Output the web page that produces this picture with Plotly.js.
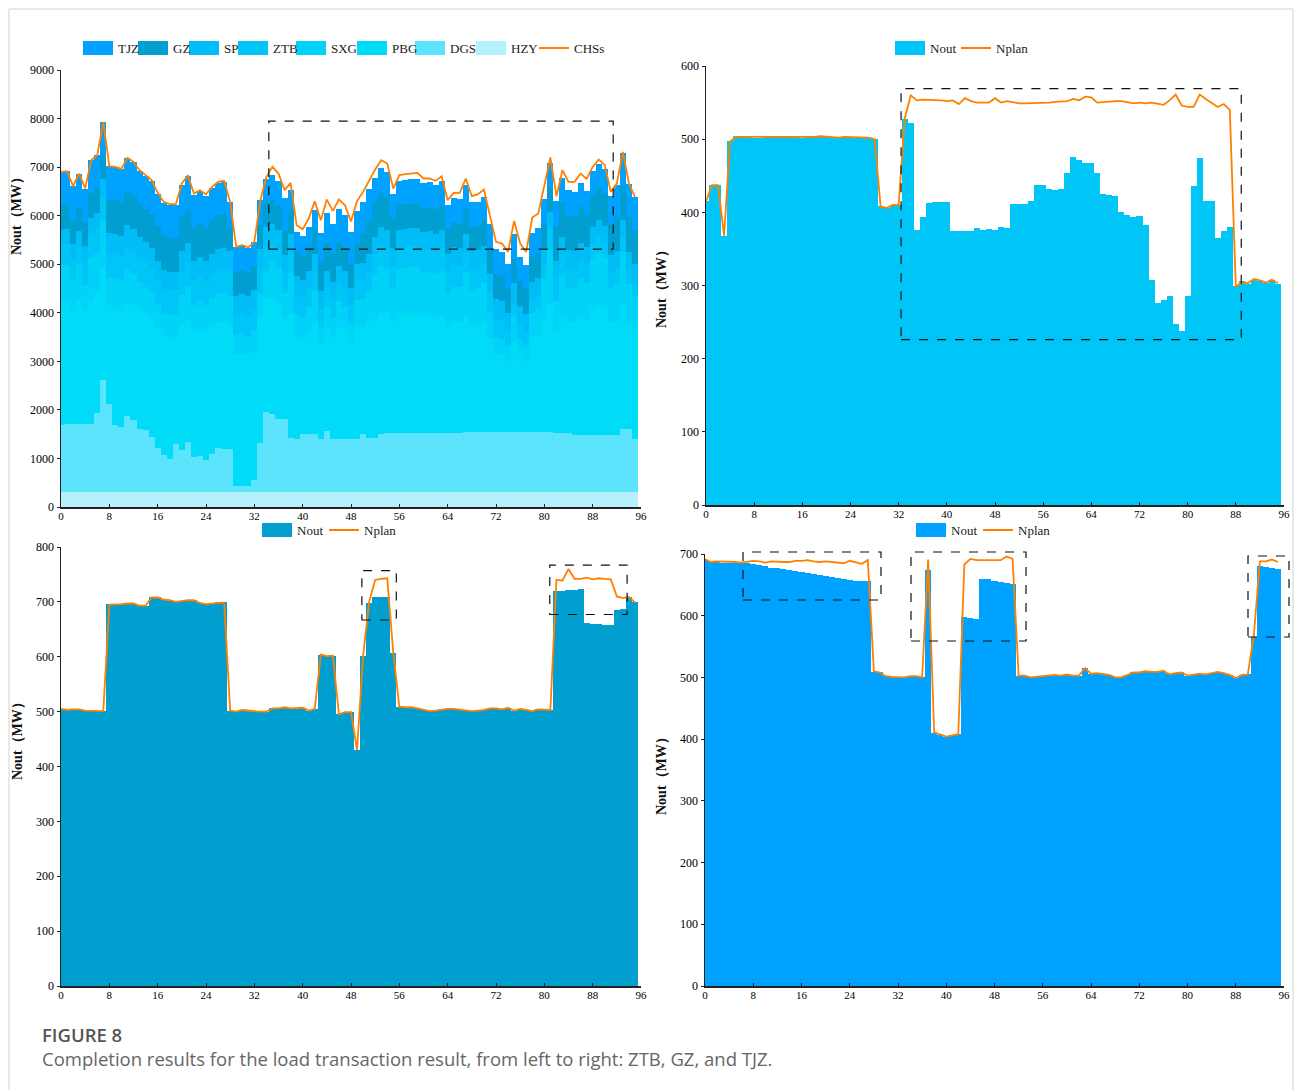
<!DOCTYPE html>
<html>
<head>
<meta charset="utf-8">
<script src="https://cdn.plot.ly/plotly-3.0.1.min.js"></script>
<style>
  html, body { margin: 0; padding: 0; background: #fff; }
  #chart { width: 1298px; height: 1090px; }
</style>
</head>
<body>
<div id="chart"></div>
<script>
// 96 fifteen-minute periods of the day
const steps = [...Array(96).keys()];

// ---- Stacked output of each station (MW) ----
const hzy = [
  300,300,300,300,300,300,300,300, 302,302,302,302,300,300,300,300,
  300,300,300,300,300,300,300,300, 300,300,300,300,300,300,300,300,
  300,300,300,300,300,300,300,300, 300,300,300,300,300,300,300,300,
  300,300,300,300,300,300,300,300, 300,300,300,300,300,300,300,300,
  300,300,300,300,300,300,300,300, 300,300,300,300,300,300,300,300,
  300,300,300,300,300,300,300,300, 300,300,300,300,300,300,300,300
];
const dgs = [
  1396,1400,1400,1400,1400,1400,1637,2310, 1815,1383,1348,1568,1486,1300,1280,1142,
  916,765,682,1005,881,1039,730,744,       675,799,916,902,902,133,133,133,
  263,1019,1657,1609,1506,1506,1122,1108,  1197,1211,1211,1108,1259,1108,1108,1094,
  1094,1100,1197,1122,1122,1211,1220,1225, 1225,1225,1225,1225,1225,1225,1225,1230,
  1230,1230,1230,1235,1235,1235,1235,1235, 1240,1240,1240,1240,1240,1240,1245,1245,
  1245,1245,1230,1230,1230,1177,1177,1177, 1177,1177,1190,1190,1190,1314,1314,1108
];
const pbg = [
  2554,2550,2350,2550,2350,2550,2463,2290, 2035,2417,2402,2332,2364,2450,2420,2458,
  2484,2485,2518,2195,2569,2511,2570,2606, 2625,2601,2584,2598,2548,2717,2717,2717,
  2637,2581,2343,2391,2394,2094,2578,2092, 1953,2089,2289,1942,2091,2092,2292,2256,
  2006,2300,2203,2378,2478,2489,2480,2275, 2475,2475,2475,2475,2425,2425,2375,2420,
  2170,2270,2270,2415,2215,2215,2265,1915, 1610,1610,1460,1860,1610,1460,1955,2005,
  2305,2655,2120,2370,2270,2323,2423,2373, 2623,2673,2610,2310,2310,2586,2186,2292
];
const sxg = [
  725,729,628,738,522,871,815,982,   563,600,619,673,643,584,541,531,
  471,447,462,455,609,671,566,579,   554,598,591,606,602,391,430,380,
  449,511,557,764,738,502,835,478,   448,520,667,354,477,397,537,466,
  385,570,581,619,889,979,912,732,   903,923,935,951,885,886,889,916,
  681,738,739,888,728,768,810,562,   346,313,338,533,313,343,493,536,
  847,1086,584,878,719,741,811,760,  1007,1095,1030,712,797,1056,794,638
];
const sp = [
  313,310,300,320,300,330,340,360, 420,420,410,430,430,420,410,400,
  400,390,380,390,410,420,400,410, 400,410,420,420,420,400,400,400,
  400,380,380,380,370,370,370,360, 360,360,370,360,360,360,360,360,
  350,360,360,370,370,370,370,370, 370,370,370,370,370,370,370,370,
  370,370,370,370,370,370,370,400, 400,400,350,400,400,350,400,400,
  360,360,360,360,360,360,360,360, 360,360,360,360,360,360,360,360
];
const chss = [
  6900,6916,6607,6868,6559,7143,7246,7933, 7019,7005,6964,7191,7109,6937,6834,6731,
  6470,6284,6236,6236,6662,6834,6456,6525, 6442,6593,6696,6717,6284,5357,5391,5343,
  5460,6319,6799,7005,6868,6525,6676,5804, 5721,5941,6298,5907,6332,6099,6332,6216,
  5880,6300,6490,6731,6951,7143,7074,6559, 6834,6854,6868,6882,6765,6765,6717,6813,
  6319,6470,6470,6765,6401,6442,6538,5975, 5460,5426,5254,5893,5426,5254,5962,6044,
  6607,7198,6401,6937,6696,6696,6868,6758, 7005,7157,7040,6490,6662,7315,6662,6387
];

// ---- ZTB ----
const ztbOut = [
  415,437,437,368,497,504,504,503, 502,502,503,503,503,503,503,503,
  502,503,503,504,503,503,503,503, 503,503,502,502,500,408,406,410,
  410,527,522,376,394,413,414,414, 414,375,375,375,375,378,376,377,
  376,380,379,412,412,412,415,438, 438,432,431,432,454,475,472,468,
  468,454,425,424,423,400,397,393, 395,383,308,276,280,286,247,238,
  286,436,474,415,415,365,375,380, 299,306,302,308,306,303,307,302
];
const ztbPlan = [
  415,437,437,368,497,503,503,503, 502,502,503,503,502,503,503,503,
  502,503,503,504,503,503,502,503, 503,502,502,502,500,408,406,410,
  410,528,560,553,554,554,554,553, 552,553,548,556,552,550,550,550,
  556,550,552,550,549,549,549,549, 550,550,551,552,552,555,553,558,
  557,550,551,551,552,552,551,549, 550,549,550,549,547,553,561,546,
  544,544,561,555,550,544,548,540, 298,305,303,309,307,304,308,303
];

// ---- GZ ----
const gzOut = [
  505,503,504,504,502,502,502,501, 696,696,697,697,697,693,693,709,
  708,704,703,700,702,703,703,698, 696,697,699,700,502,500,503,502,
  500,500,500,506,506,508,506,506, 507,502,505,604,601,602,495,499,
  499,430,601,698,709,708,709,607, 509,508,508,506,503,501,502,504,
  505,505,504,502,501,502,503,506, 506,504,507,502,505,503,501,504,
  503,503,719,720,721,722,724,661, 660,659,658,657,686,687,709,699
];
const gzPlan = [
  505,503,504,504,502,502,502,501, 695,695,696,697,697,693,693,708,
  708,704,703,700,702,703,703,698, 696,697,699,699,502,500,503,502,
  500,500,500,506,506,508,506,506, 507,502,505,604,601,602,495,499,
  499,430,601,700,740,742,743,607, 509,508,508,506,503,501,502,504,
  505,505,504,502,501,502,503,506, 506,504,507,502,505,503,501,504,
  503,503,740,739,760,742,742,744, 741,743,742,741,710,707,709,699
];

// ---- TJZ ----
const tjzOut = [
  690,687,687,686,685,685,685,685, 684,682,680,678,677,675,674,673,
  671,669,668,666,664,663,661,660, 658,657,657,657,509,508,502,501,
  501,500,502,502,500,674,410,407, 404,406,408,598,596,594,660,659,
  657,655,653,651,503,503,500,501, 502,503,504,503,505,503,503,515,
  506,507,506,504,500,500,504,508, 508,510,509,509,511,505,507,508,
  503,505,506,505,507,509,507,504, 499,504,505,565,680,679,678,676
];
const tjzPlan = [
  692,687,688,688,688,687,686,687, 689,688,686,688,687,687,687,689,
  689,690,688,687,688,687,685,685, 689,686,684,690,510,508,502,501,
  501,500,502,502,500,691,411,407, 404,406,408,683,692,690,690,691,
  690,690,696,692,503,503,500,501, 502,503,504,503,505,503,503,515,
  506,507,506,504,500,500,504,508, 508,510,509,509,511,505,507,508,
  503,505,506,505,507,509,507,504, 499,504,505,568,688,688,691,687
];

// ---- styling ----
const COLORS = {
  TJZ: '#00A2FF', GZ: '#009FCF', SP: '#00BDF7', ZTB: '#00C6F7',
  SXG: '#00D3F7', PBG: '#00DCF8', DGS: '#5CE4FC', HZY: '#B5F1FC'
};
const LINE = '#FF8000';
const SERIF = 'Liberation Serif, Times New Roman, serif';
const W = 1298, H = 1090;
const fx = p => p / W;
const fy = p => 1 - p / H;

function bar(y, color, xa, ya) {
  return { type: 'bar', x: steps, y: y, width: 1, xaxis: xa, yaxis: ya,
    marker: { color: color, line: { width: 0 } }, showlegend: false, hoverinfo: 'x+y' };
}
function line(y, xa, ya) {
  return { type: 'scatter', mode: 'lines', x: steps, y: y, xaxis: xa, yaxis: ya,
    line: { color: LINE, width: 1.8 }, showlegend: false };
}

const traces = [
  // stacked, bottom to top
  bar(hzy, COLORS.HZY, 'x', 'y'),
  bar(dgs, COLORS.DGS, 'x', 'y'),
  bar(pbg, COLORS.PBG, 'x', 'y'),
  bar(sxg, COLORS.SXG, 'x', 'y'),
  bar(ztbOut, COLORS.ZTB, 'x', 'y'),
  bar(sp, COLORS.SP, 'x', 'y'),
  bar(gzOut, COLORS.GZ, 'x', 'y'),
  bar(tjzOut, COLORS.TJZ, 'x', 'y'),
  line(chss, 'x', 'y'),
  bar(ztbOut, COLORS.ZTB, 'x2', 'y2'),
  line(ztbPlan, 'x2', 'y2'),
  bar(gzOut, COLORS.GZ, 'x3', 'y3'),
  line(gzPlan, 'x3', 'y3'),
  bar(tjzOut, COLORS.TJZ, 'x4', 'y4'),
  line(tjzPlan, 'x4', 'y4')
];

function xAxis(l, r, anchor) {
  return { domain: [fx(l), fx(r)], anchor: anchor, range: [0, 96], tick0: 0, dtick: 8,
    showgrid: false, zeroline: false, showline: true, linecolor: '#222', linewidth: 1.5,
    ticks: 'inside', ticklen: 3, tickcolor: '#222', ticklabelstandoff: -2,
    tickfont: { family: SERIF, size: 11, color: '#000' }, fixedrange: true };
}
function yAxis(bottom, top, anchor, max, step) {
  return { domain: [fy(bottom), fy(top)], anchor: anchor, range: [0, max], dtick: step,
    showgrid: false, zeroline: false, showline: true, linecolor: '#222', linewidth: 1.5,
    ticks: 'outside', ticklen: 3, tickcolor: '#222',
    tickfont: { family: SERIF, size: 12, color: '#000' }, fixedrange: true };
}

const shapes = [];
const annotations = [];

// card frame
shapes.push({ type: 'rect', xref: 'paper', yref: 'paper', x0: fx(9), x1: fx(1293), y0: -0.02, y1: fy(9),
  line: { color: '#d2d2d2', width: 1 }, fillcolor: 'rgba(0,0,0,0)', layer: 'below' });

const LEG_FONT = { family: SERIF, size: 13, color: '#1a1a1a' };
function legendBox(x0, yc, color, label) {
  shapes.push({ type: 'rect', xref: 'paper', yref: 'paper', x0: fx(x0), x1: fx(x0 + 30),
    y0: fy(yc + 7), y1: fy(yc - 7), fillcolor: color, line: { width: 0 } });
  annotations.push({ xref: 'paper', yref: 'paper', x: fx(x0 + 33), y: fy(yc), xanchor: 'left', yanchor: 'middle',
    text: label, showarrow: false, font: LEG_FONT });
}
function legendLine(x0, yc, label) {
  shapes.push({ type: 'line', xref: 'paper', yref: 'paper', x0: fx(x0), x1: fx(x0 + 30),
    y0: fy(yc), y1: fy(yc), line: { color: LINE, width: 2 } });
  annotations.push({ xref: 'paper', yref: 'paper', x: fx(x0 + 33), y: fy(yc), xanchor: 'left', yanchor: 'middle',
    text: label, showarrow: false, font: LEG_FONT });
}

// legends
legendBox(83, 48, COLORS.TJZ, 'TJZ');
legendBox(138, 48, COLORS.GZ, 'GZ');
legendBox(189, 48, COLORS.SP, 'SP');
legendBox(238, 48, COLORS.ZTB, 'ZTB');
legendBox(296, 48, COLORS.SXG, 'SXG');
legendBox(357, 48, COLORS.PBG, 'PBG');
legendBox(415, 48, COLORS.DGS, 'DGS');
legendBox(476, 48, COLORS.HZY, 'HZY');
legendLine(539, 48, 'CHSs');

legendBox(895, 48, COLORS.ZTB, 'Nout');
legendLine(961, 48, 'Nplan');

legendBox(262, 530, COLORS.GZ, 'Nout');
legendLine(329, 530, 'Nplan');

legendBox(916, 530, COLORS.TJZ, 'Nout');
legendLine(983, 530, 'Nplan');

// dashed highlight boxes
const DASH = { color: '#111', width: 1.2, dash: 'dash' };
function dashBox(xa, ya, x0, x1, y0, y1) {
  shapes.push({ type: 'rect', xref: xa, yref: ya, x0: x0, x1: x1, y0: y0, y1: y1,
    line: DASH, fillcolor: 'rgba(0,0,0,0)', layer: 'above' });
}
// boxes drawn in page pixels (they run past the plot frame)
function dashBoxPx(l, r, t, b) {
  shapes.push({ type: 'rect', xref: 'paper', yref: 'paper', x0: fx(l), x1: fx(r), y0: fy(b), y1: fy(t),
    line: DASH, fillcolor: 'rgba(0,0,0,0)', layer: 'above' });
}
dashBox('x', 'y', 34.4, 91.4, 5309, 7947);
dashBox('x2', 'y2', 32.4, 88.9, 226, 569);
dashBox('x3', 'y3', 49.8, 55.5, 667, 757);
dashBox('x3', 'y3', 80.9, 93.7, 677, 767);
dashBoxPx(743, 881, 552, 600);
dashBoxPx(911, 1026, 552, 641);
dashBoxPx(1248, 1289, 556, 637);

// y-axis titles
function yTitle(xc, yc) {
  annotations.push({ xref: 'paper', yref: 'paper', x: fx(xc), y: fy(yc), xanchor: 'center', yanchor: 'middle',
    text: '<b>Nout（MW）</b>', textangle: -90, showarrow: false, font: { family: SERIF, size: 14, color: '#111' } });
}
yTitle(17, 213);
yTitle(661, 286);
yTitle(17, 738);
yTitle(661, 773);

// figure caption
annotations.push({ xref: 'paper', yref: 'paper', x: fx(40), y: fy(1034), xanchor: 'left', yanchor: 'middle',
  text: 'FIGURE 8', showarrow: false, font: { family: 'Open Sans, sans-serif', size: 18.5, color: '#555', weight: 600 } });
annotations.push({ xref: 'paper', yref: 'paper', x: fx(40), y: fy(1058), xanchor: 'left', yanchor: 'middle',
  text: 'Completion results for the load transaction result, from left to right: ZTB, GZ, and TJZ.',
  showarrow: false, font: { family: 'Open Sans, sans-serif', size: 18.5, color: '#666' } });

const layout = {
  width: W, height: H,
  margin: { l: 0, r: 0, t: 0, b: 0 },
  paper_bgcolor: '#fff', plot_bgcolor: '#fff',
  barmode: 'stack', bargap: 0,
  showlegend: false,
  xaxis: xAxis(61, 641, 'y'),
  yaxis: yAxis(507, 70, 'x', 9000, 1000),
  xaxis2: xAxis(706, 1284, 'y2'),
  yaxis2: yAxis(505, 66, 'x2', 600, 100),
  xaxis3: xAxis(61, 641, 'y3'),
  yaxis3: yAxis(986, 547, 'x3', 800, 100),
  xaxis4: xAxis(705, 1284, 'y4'),
  yaxis4: yAxis(986, 554, 'x4', 700, 100),
  shapes: shapes,
  annotations: annotations
};

Plotly.newPlot('chart', traces, layout, { displayModeBar: false, staticPlot: true });
</script>
</body>
</html>
